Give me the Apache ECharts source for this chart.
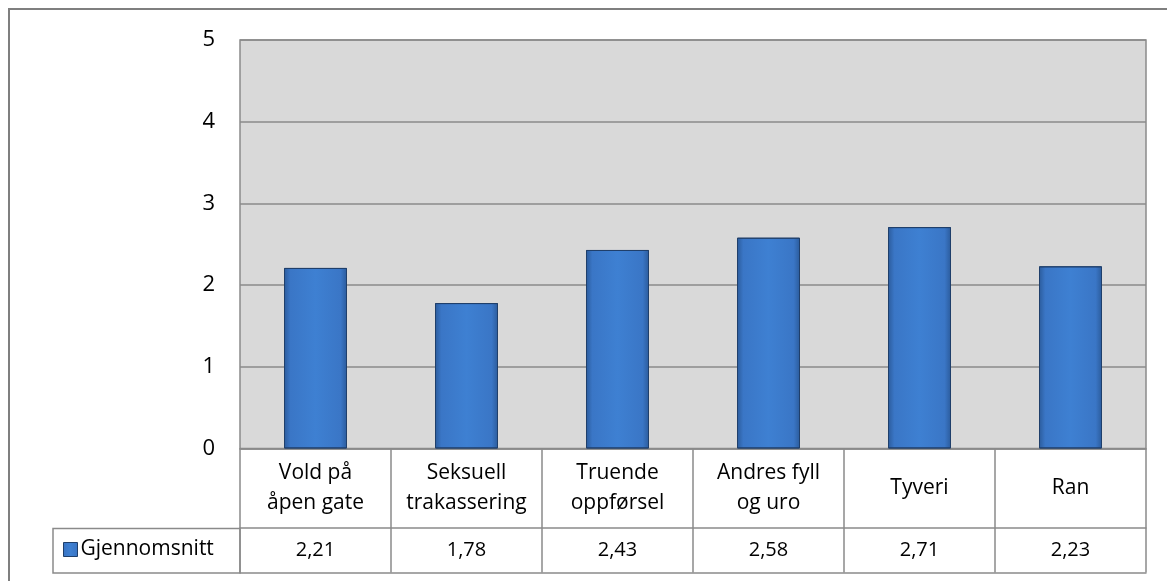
<!DOCTYPE html>
<html>
<head>
<meta charset="utf-8">
<script src="https://cdn.jsdelivr.net/npm/echarts@6/dist/echarts.min.js"></script>
<style>
  html, body { margin: 0; padding: 0; background: #fff; }
  #chart { width: 1167px; height: 581px; }
</style>
</head>
<body>
<div id="chart"></div>
<script>
// kategorier og verdier
const categories = ['Vold på\nåpen gate', 'Seksuell\ntrakassering', 'Truende\noppførsel', 'Andres fyll\nog uro', 'Tyveri', 'Ran']
const values = [2.21, 1.78, 2.43, 2.58, 2.71, 2.23]
const seriesName = 'Gjennomsnitt'
const yTicks = { min: 0, max: 5, interval: 1 }

const FONT = '"Open Sans"'
const GRAY = '#8a8a8a'

// verdier med komma som i tabellen
const valueLabels = values.map(v => v.toFixed(2).replace('.', ','))

const barColor = {
  type: 'linear', x: 0, y: 0, x2: 1, y2: 0,
  colorStops: [
    { offset: 0, color: '#2b5b9b' },
    { offset: 0.1, color: '#3a76c6' },
    { offset: 0.5, color: '#3e80d2' },
    { offset: 0.9, color: '#3a76c6' },
    { offset: 1, color: '#2b5b9b' }
  ]
}

let myChart = echarts.init(document.getElementById('chart'))
myChart.setOption({
  backgroundColor: '#fff',
  textStyle: { fontFamily: FONT },
  legend: {
    left: 63,
    top: 539,
    padding: 0,
    icon: 'rect',
    itemWidth: 14,
    itemHeight: 14,
    itemGap: 6,
    textStyle: { fontFamily: FONT, fontSize: 21, color: '#000', padding: [0, 0, 0, -2] },
    data: [{ name: seriesName, itemStyle: { color: barColor, borderColor: '#1f3f6b', borderWidth: 1 } }]
  },
  grid: {
    left: 240,
    right: 21,
    top: 40,
    bottom: 132.5,
    show: true,
    backgroundColor: '#d9d9d9',
    borderColor: GRAY,
    borderWidth: 1.5
  },
  xAxis: [{
    type: 'category',
    data: categories,
    position: 'bottom',
    axisLine: { show: true, lineStyle: { color: GRAY, width: 1.5 } },
    axisTick: { show: true, length: 124, lineStyle: { color: GRAY, width: 1.5 } },
    axisLabel: {
      interval: 0,
      margin: 40,
      verticalAlign: 'middle',
      fontFamily: FONT,
      fontSize: 21,
      lineHeight: 30,
      color: '#000'
    }
  }, {
    type: 'category',
    data: valueLabels,
    position: 'bottom',
    offset: 79,
    axisLine: { show: true, lineStyle: { color: GRAY, width: 1.5 } },
    axisTick: { show: false },
    axisLabel: {
      interval: 0,
      margin: 22.5,
      verticalAlign: 'middle',
      fontFamily: FONT,
      fontSize: 20,
      color: '#000'
    }
  }, {
    type: 'category',
    data: valueLabels,
    position: 'bottom',
    offset: 124,
    axisLine: { show: true, lineStyle: { color: GRAY, width: 1.5 } },
    axisTick: { show: false },
    axisLabel: { show: false }
  }],
  yAxis: {
    type: 'value',
    min: yTicks.min,
    max: yTicks.max,
    interval: yTicks.interval,
    axisLine: { show: false },
    axisTick: { show: false },
    axisLabel: { margin: 25, fontFamily: FONT, fontSize: 22, color: '#000' },
    splitLine: { show: true, lineStyle: { color: GRAY, width: 1.5 } }
  },
  graphic: [{
    type: 'rect',
    silent: true,
    z: -1,
    shape: { x: 9, y: 9, width: 1180, height: 600 },
    style: { fill: 'none', stroke: '#7f7f7f', lineWidth: 2 }
  }, {
    type: 'rect',
    silent: true,
    shape: { x: 53, y: 528.5, width: 187, height: 44.5 },
    style: { fill: 'none', stroke: GRAY, lineWidth: 1.5 }
  }],
  series: [{
    name: seriesName,
    type: 'bar',
    xAxisIndex: 0,
    barWidth: 63,
    itemStyle: { color: barColor, borderColor: '#1f3f6b', borderWidth: 1 },
    data: values
  }]
})
</script>
</body>
</html>
